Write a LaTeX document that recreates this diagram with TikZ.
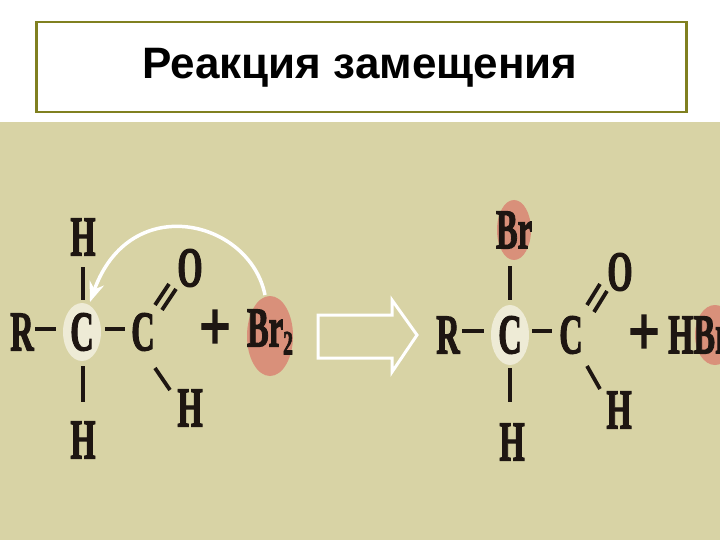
\documentclass[tikz,border=0pt]{standalone}
\usepackage{fontspec}
\setmainfont{Liberation Serif}
\newfontfamily\titlefont{Liberation Sans}
\newfontfamily\atomfont[FakeBold=2.5]{Liberation Serif Bold}
\usetikzlibrary{arrows.meta}
\definecolor{khaki}{HTML}{D8D3A5}
\definecolor{pale}{HTML}{EEEBD6}
\definecolor{brc}{HTML}{D9907A}
\definecolor{olive}{HTML}{808020}
\definecolor{ink}{HTML}{1E1612}
\tikzset{
  atom/.style={inner sep=0pt, text=ink, font=\atomfont\fontsize{56}{56}\selectfont, xscale=0.58, anchor=center},
  plus/.style={inner sep=0pt, text=ink, font=\atomfont\fontsize{70}{70}\selectfont, xscale=0.8, anchor=center},
  bond/.style={draw=ink, line width=3.8pt},
  palebg/.style={fill=pale, draw=none},
  brbg/.style={fill=brc, draw=none},
}
\begin{document}
\begin{tikzpicture}[x=1pt,y=-1pt]
\useasboundingbox (0,0) rectangle (720,540);
\clip (0,0) rectangle (720,540);
\fill[white] (0,0) rectangle (720,540);
\fill[khaki] (0,122) rectangle (720,540);
\node[draw=olive, line width=2.5pt, minimum width=650pt, minimum height=90pt, anchor=north west, inner sep=0pt] (tbox) at (35,21) {};
\node[font=\titlefont\bfseries\fontsize{44}{44}\selectfont] (title) at (360,68) {Реакция замещения};
% left molecule
\fill[palebg] (82,332) ellipse [x radius=19, y radius=29];
\fill[brbg] (270,336) ellipse [x radius=23, y radius=40];
\node[atom] (R1) at (22,332) {R};
\node[atom] (Ca) at (82,332) {C};
\node[atom] (Cb) at (143,332) {C};
\node[atom] (Ht) at (83,237) {H};
\node[atom] (Hb) at (83,440) {H};
\node[atom] (O1) at (190,268) {O};
\node[atom] (Hr) at (190,408) {H};
\node[plus] (p1) at (215,330) {+};
\node[atom] (Br2) at (270,332) {Br\raisebox{-8pt}{\fontsize{34}{34}\selectfont 2}};
\draw[bond] (35,329) -- (56,329);
\draw[bond] (105,329) -- (125,329);
\draw[bond] (83,267) -- (83,300);
\draw[bond] (83,366) -- (83,402);
\draw[bond] (155,305) -- (169,284);
\draw[bond] (162,310) -- (176,289);
\draw[bond] (155,368) -- (170,390);
\draw[white, line width=3.5pt, -{Stealth[length=20pt,width=15pt]}] (265,295) .. controls (250,220) and (130,190) .. (90,302);
% hollow arrow
\coordinate (ha) at (318,335);
\draw[white, line width=3pt, line join=miter] (318,315) -- (392,315) -- (392,300) -- (417,335) -- (392,372) -- (392,358) -- (318,358) -- cycle;
% right molecule
\fill[palebg] (510,335) ellipse [x radius=19, y radius=30];
\fill[brbg] (514,230) ellipse [x radius=17, y radius=30];
\fill[brbg] (715,335) ellipse [x radius=20, y radius=30];
\node[atom] (R2) at (448,335) {R};
\node[atom] (Cc) at (510,335) {C};
\node[atom] (Cd) at (571,335) {C};
\node[atom] (Br) at (514,230) {Br};
\node[atom] (Hb2) at (512,442) {H};
\node[atom] (O2) at (620,272) {O};
\node[atom] (Hr2) at (619,410) {H};
\node[plus] (p2) at (644,335) {+};
\node[atom, anchor=west] (HBr) at (668,335) {HBr};
\draw[bond] (462,331) -- (484,331);
\draw[bond] (532,331) -- (552,331);
\draw[bond] (510,266) -- (510,300);
\draw[bond] (510,368) -- (510,402);
\draw[bond] (587,305) -- (600,284);
\draw[bond] (594,312) -- (607,291);
\draw[bond] (587,366) -- (600,389);
\end{tikzpicture}
\end{document}
